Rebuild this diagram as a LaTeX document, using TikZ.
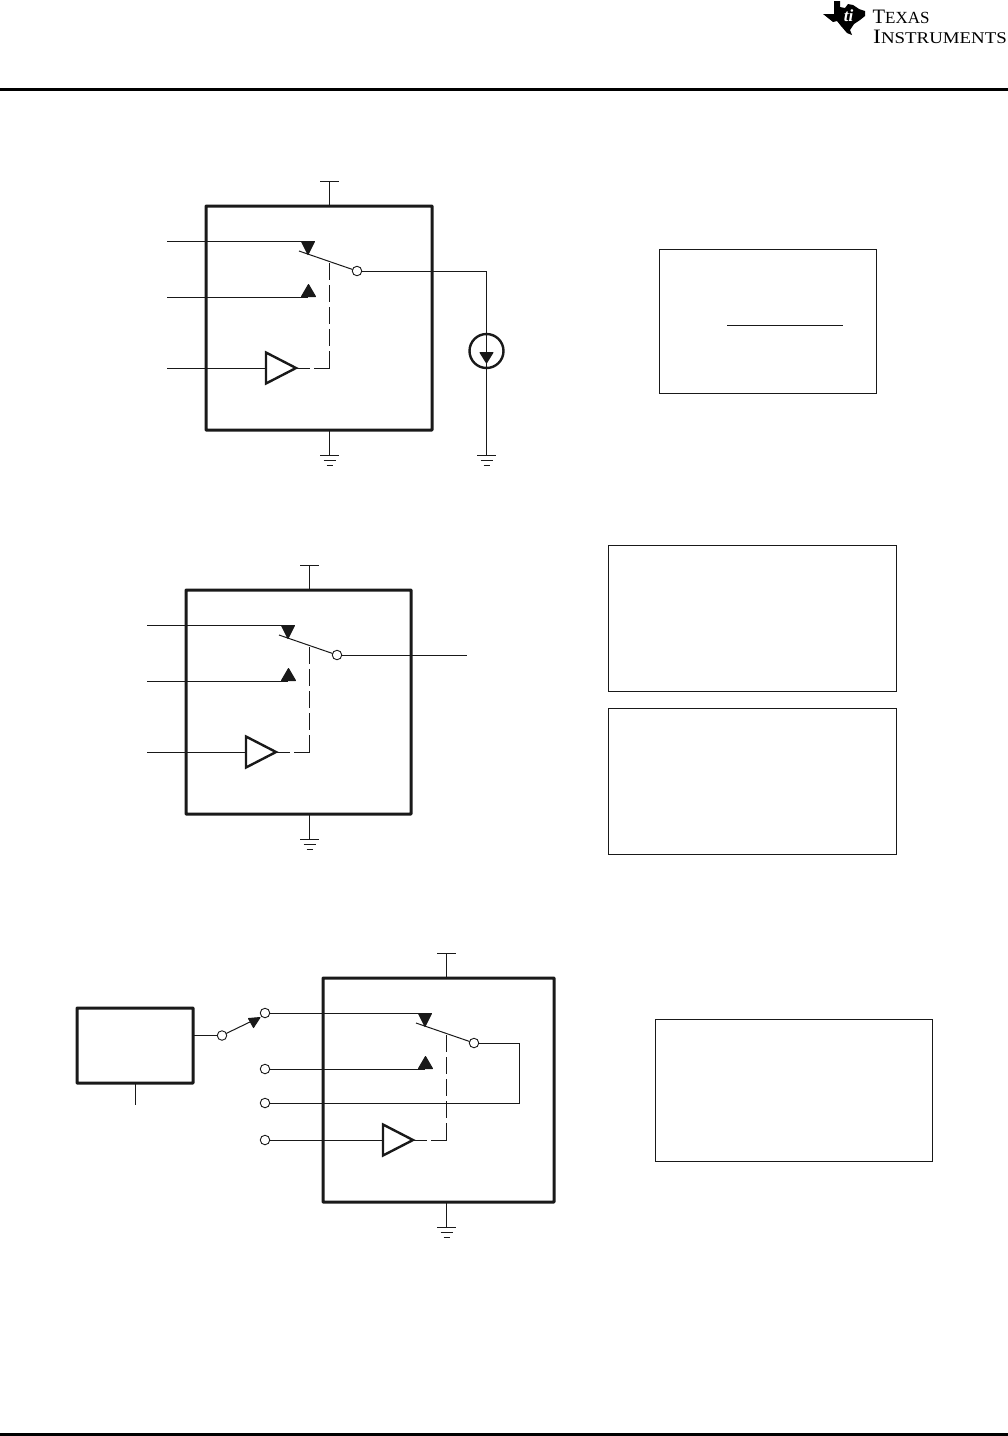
\documentclass[tikz,border=0pt]{standalone}
\usepackage{fontspec}
\setmainfont{Liberation Serif}
\newfontfamily\logowide[FakeStretch=1.15]{Liberation Serif}
\tikzset{
  wire/.style={line width=1pt,black!90},
  heavy/.style={draw=black!90,line width=3pt,rectangle,rounded corners=0.5pt,inner sep=0pt,outer sep=0pt},
  panel/.style={draw=black!90,line width=1.2pt,rectangle,inner sep=0pt,outer sep=0pt},
  term/.style={draw=black!90,fill=white,line width=0.9pt,circle,inner sep=0pt,outer sep=0pt,minimum size=9.5pt},
  tip/.style={fill=black!90,draw=black!90,line width=1pt,line join=round},
  ctrl/.style={wire,dash pattern=on 17pt off 5pt},
  ctrlh/.style={wire,dash pattern=on 16pt off 4pt},
  pics/gnd/.style={code={
    \coordinate (top) at (0,0);
    \draw[wire] (-9.5,0) -- (9.5,0);
    \draw[wire] (-6,5) -- (6,5);
    \draw[wire] (-3,10) -- (3,10);
  }},
  pics/swblock/.style={code={
    \node[heavy,anchor=north west,minimum width=#1 pt,minimum height=224pt] (box) at (0,0) {};
    \coordinate (vt) at (123.5,-24.5);
    \coordinate (vb) at (123.5,0);
    \coordinate (gt) at (123.5,224);
    \coordinate (gb) at (123.5,249);
    \draw[wire] (vb) -- (vt);
    \draw[wire] (vt) ++(-9.5,0) -- ++(19,0);
    \draw[wire] (gt) -- (gb);
    \pic at (gb) {gnd};
    % contacts
    \coordinate (a) at (102,35);
    \coordinate (b) at (102,91);
    \coordinate (c) at (60,162);
    \coordinate (d) at (90,162);
    \coordinate (j) at (123.5,57);
    \coordinate (k) at (123.5,162);
    \draw[tip] (95.5,35.5) -- (108.5,35.5) -- (102,48.5) -- cycle;
    \draw[tip] (95.5,90.5) -- (109.5,90.5) -- (102.5,78.5) -- cycle;
    \node[term] (o) at (151,65) {};
    \draw[wire] (93,45) -- (o);
    \draw[ctrl] (j) -- (k);
    \draw[ctrlh] (k) -- (d);
    \draw[draw=black!90,fill=white,line width=2.4pt,line join=miter] (60,146.5) -- (60,177.5) -- (d) -- cycle;
  }}
}
\begin{document}
\begin{tikzpicture}[x=1pt,y=-1pt]
\useasboundingbox (0,0) rectangle (1008,1436);
\fill[white] (0,0) rectangle (1008,1436);
% page furniture
\coordinate (hl) at (0,89.5); \coordinate (hr) at (1008,89.5);
\draw[black,line width=3pt] (hl) -- (hr);
\coordinate (fl) at (0,1434.5); \coordinate (fr) at (1008,1434.5);
\draw[black,line width=3pt] (fl) -- (fr);
% logo
\fill[black] (834,1) -- (840,1) -- (840,7) -- (845,8) -- (848,4) -- (853,5) -- (859,9) -- (865,11) -- (865,16) -- (860,20) -- (854,24) -- (850,30) -- (852,35) -- (847,33) -- (841,26) -- (837,21) -- (833,22) -- (828,18) -- (823,14) -- (834,14) -- cycle;
\node[white,font=\bfseries\itshape\fontsize{17}{17}\selectfont,inner sep=0pt] (logoti) at (848.5,16) {\textit{ti}};
\node[anchor=base west,inner sep=0pt,font=\fontsize{20.5}{20}\selectfont] (logo1) at (872.5,23) {T\fontsize{17}{15}\selectfont EXAS};
\node[anchor=base west,inner sep=0pt,font=\logowide\fontsize{20.5}{20}\selectfont] (logo2) at (873,43) {I\fontsize{16.4}{15}\selectfont NSTRUMENTS};
% block 1
\pic (p-) at (206,206) {swblock=226};
\coordinate (p-ia) at (167,241);
\coordinate (p-ib) at (167,297);
\coordinate (p-ic) at (167,368);
\draw[wire] (p-ia) -- (p-a);
\draw[wire] (p-ib) -- (p-b);
\draw[wire] (p-ic) -- (p-c);
\node[draw=black!90,line width=2.4pt,circle,inner sep=0pt,minimum size=34pt] (src) at (486.5,351) {};
\coordinate (srcg) at (486.5,455);
\draw[wire] (p-o) -| (src.north);
\draw[wire] (src.north) -- (src.center);
\draw[wire] (src.center) -- (srcg);
\draw[tip] (480,352.5) -- (493,352.5) -- (486.5,363) -- cycle;
\pic at (srcg) {gnd};
% block 2
\pic (q-) at (186,590) {swblock=225};
\coordinate (q-ia) at (147,625);
\coordinate (q-ib) at (147,681);
\coordinate (q-ic) at (147,752);
\coordinate (q-out) at (467,655);
\draw[wire] (q-ia) -- (q-a);
\draw[wire] (q-ib) -- (q-b);
\draw[wire] (q-ic) -- (q-c);
\draw[wire] (q-o) -- (q-out);
% block 3
\pic (r-) at (323,978) {swblock=231};
\node[term] (t1) at (265,1013) {};
\node[term] (t2) at (265,1069) {};
\node[term] (t3) at (265,1103) {};
\node[term] (t4) at (265,1140) {};
\draw[wire] (t1) -- (r-a);
\draw[wire] (t2) -- (r-b);
\draw[wire] (t4) -- (r-c);
\coordinate (r-turn) at (519.5,1043);
\draw[wire] (r-o) -- (r-turn) |- (t3);
\node[heavy,anchor=north west,minimum width=116pt,minimum height=75pt] (gen) at (77,1008) {};
\node[term] (sw) at (222,1035.5) {};
\coordinate (genb) at (135,1105);
\draw[wire] (gen.south -| genb) -- (genb);
\draw[wire] (gen.east |- sw) -- (sw);
\draw[wire] (sw) -- (254,1020);
\draw[tip] (248.5,1018.5) -- (260,1017.5) -- (253.5,1027.5) -- cycle;
% right panels
\node[panel,anchor=north west,minimum width=217pt,minimum height=144pt] (pa) at (659.5,249.5) {};
\coordinate (fa) at (727,325); \coordinate (fb) at (843,325);
\draw[wire] (fa) -- (fb);
\node[panel,anchor=north west,minimum width=288pt,minimum height=146pt] (pb) at (608.5,545.5) {};
\node[panel,anchor=north west,minimum width=288pt,minimum height=146pt] (pc) at (608.5,708.5) {};
\node[panel,anchor=north west,minimum width=277pt,minimum height=142pt] (pd) at (655.5,1019.5) {};
\end{tikzpicture}
\end{document}
